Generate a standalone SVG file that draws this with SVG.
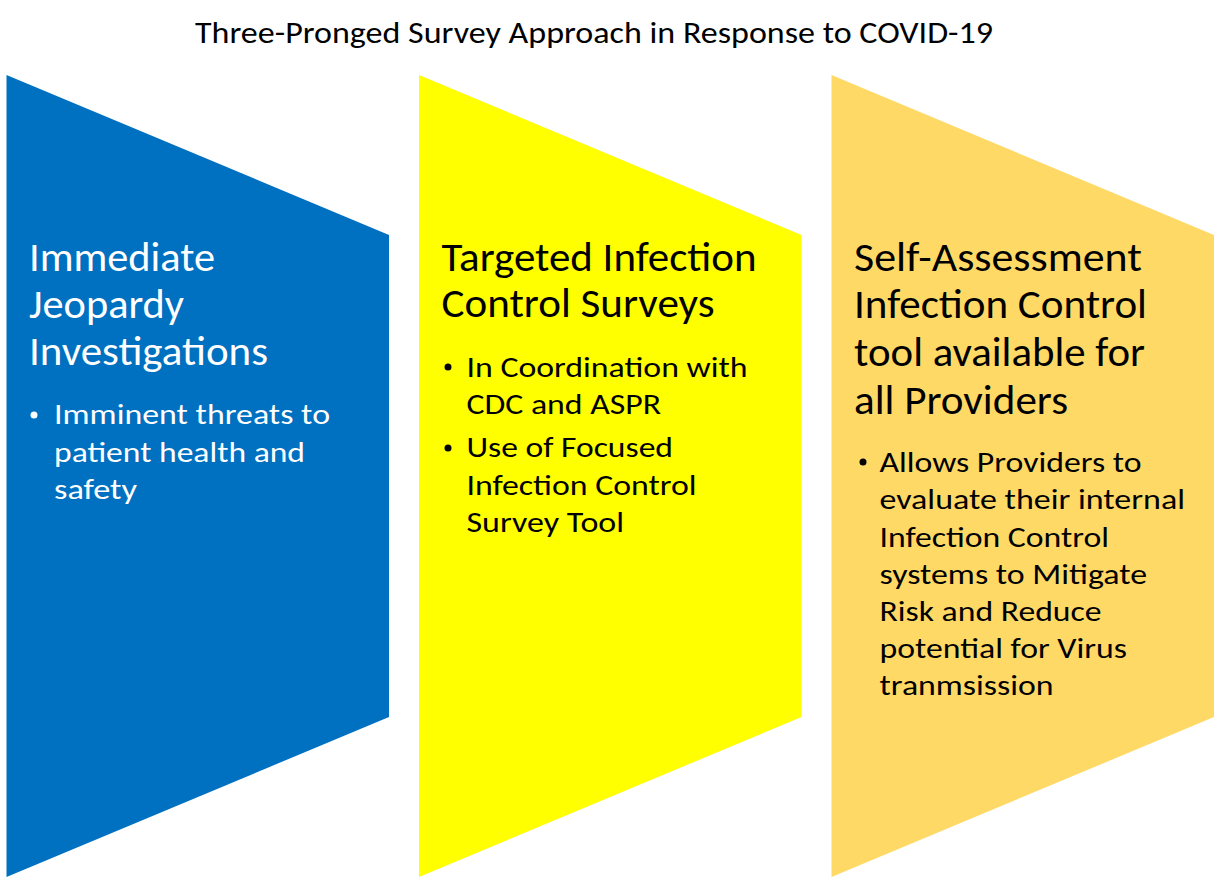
<svg xmlns="http://www.w3.org/2000/svg" width="1216" height="881" viewBox="0 0 1216 881">
<style>
text{font-family:Calibri,Carlito,"Noto Sans","Liberation Sans",sans-serif}
.title{font-size:30.5px;fill:#000}
.h{font-size:40px}
.b{font-size:29px}
.w{fill:#fff}
.k{fill:#000}
</style>
<rect width="1216" height="881" fill="#fff"/>
<text class="title" x="195" y="42.5" textLength="798" lengthAdjust="spacingAndGlyphs">Three-Pronged Survey Approach in Response to COVID-19</text>
<g id="node-ij">
<polygon points="6.5,75 389,235 389,717 6.5,877" fill="#0070C0"/>
<text class="h w" x="29" y="271" textLength="186" lengthAdjust="spacingAndGlyphs">Immediate</text>
<text class="h w" x="29" y="318" textLength="155" lengthAdjust="spacingAndGlyphs">Jeopardy</text>
<text class="h w" x="29" y="365" textLength="239" lengthAdjust="spacingAndGlyphs">Investigations</text>
<circle cx="34" cy="415" r="3.5" fill="#fff"/>
<text class="b w" x="54" y="424" textLength="276" lengthAdjust="spacingAndGlyphs">Imminent threats to</text>
<text class="b w" x="54" y="461.5" textLength="251" lengthAdjust="spacingAndGlyphs">patient health and</text>
<text class="b w" x="54" y="499" textLength="83" lengthAdjust="spacingAndGlyphs">safety</text>
</g>
<g id="node-ticS">
<polygon points="419,75 801.5,235 801.5,717 419,877" fill="#FFFF00"/>
<text class="h k" x="441.5" y="270.5" textLength="315" lengthAdjust="spacingAndGlyphs">Targeted Infection</text>
<text class="h k" x="441.5" y="316.5" textLength="273" lengthAdjust="spacingAndGlyphs">Control Surveys</text>
<circle cx="448" cy="367" r="3.5" fill="#000"/>
<text class="b k" x="466.5" y="377" textLength="281" lengthAdjust="spacingAndGlyphs">In Coordination with</text>
<text class="b k" x="466.5" y="414" textLength="194.5" lengthAdjust="spacingAndGlyphs">CDC and ASPR</text>
<circle cx="448" cy="448" r="3.5" fill="#000"/>
<text class="b k" x="466.5" y="456.5" textLength="206.5" lengthAdjust="spacingAndGlyphs">Use of Focused</text>
<text class="b k" x="466.5" y="494.5" textLength="230" lengthAdjust="spacingAndGlyphs">Infection Control</text>
<text class="b k" x="466.5" y="531.5" textLength="157.5" lengthAdjust="spacingAndGlyphs">Survey Tool</text>
</g>
<g id="node-sa">
<polygon points="831.5,75 1214,235 1214,717 831.5,877" fill="#FFD966"/>
<text class="h k" x="854" y="271" textLength="288" lengthAdjust="spacingAndGlyphs">Self-Assessment</text>
<text class="h k" x="854" y="317.5" textLength="293" lengthAdjust="spacingAndGlyphs">Infection Control</text>
<text class="h k" x="854" y="366" textLength="291" lengthAdjust="spacingAndGlyphs">tool available for</text>
<text class="h k" x="854" y="414" textLength="214" lengthAdjust="spacingAndGlyphs">all Providers</text>
<circle cx="863" cy="462" r="3.5" fill="#000"/>
<text class="b k" x="879.5" y="471.5" textLength="262" lengthAdjust="spacingAndGlyphs">Allows Providers to</text>
<text class="b k" x="879.5" y="509" textLength="305.5" lengthAdjust="spacingAndGlyphs">evaluate their internal</text>
<text class="b k" x="879.5" y="546.5" textLength="229.5" lengthAdjust="spacingAndGlyphs">Infection Control</text>
<text class="b k" x="879.5" y="584" textLength="267.5" lengthAdjust="spacingAndGlyphs">systems to Mitigate</text>
<text class="b k" x="879.5" y="621" textLength="222" lengthAdjust="spacingAndGlyphs">Risk and Reduce</text>
<text class="b k" x="879.5" y="658" textLength="247.5" lengthAdjust="spacingAndGlyphs">potential for Virus</text>
<text class="b k" x="879.5" y="695" textLength="174" lengthAdjust="spacingAndGlyphs">tranmsission</text>
</g>
<g id="connectors"></g>
</svg>
